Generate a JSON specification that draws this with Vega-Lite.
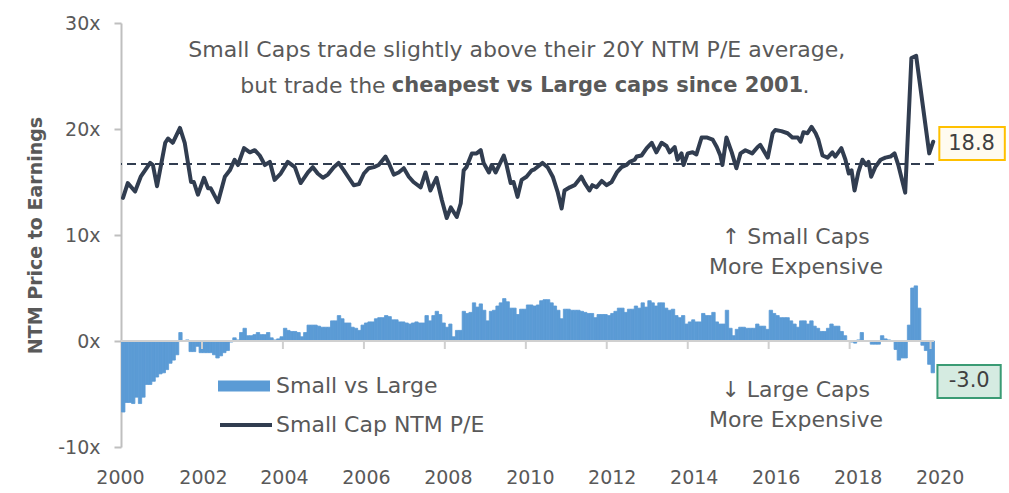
{
"$schema":"https://vega.github.io/schema/vega-lite/v6.json",
"width":813,"height":424,"autosize":"none",
"padding":{"left":121,"top":23,"right":75,"bottom":46},
"background":"white",
"config":{"font":"DejaVu Sans","view":{"stroke":null},"axis":{"grid":false}},
"datasets":{
"one":[{}],
"ticks":[{"d":"2002-01-01"},{"d":"2004-01-01"},{"d":"2006-01-01"},{"d":"2008-01-01"},{"d":"2010-01-01"},{"d":"2012-01-01"},{"d":"2014-01-01"},{"d":"2016-01-01"},{"d":"2018-01-01"},{"d":"2020-01-01"}],
"bars":[
{"d":"2000-01-01","v":-6.7},{"d":"2000-02-01","v":-5.8},{"d":"2000-03-01","v":-5.8},{"d":"2000-04-01","v":-5.9},{"d":"2000-05-01","v":-5.3},{"d":"2000-06-01","v":-5.9},{"d":"2000-07-01","v":-5.3},{"d":"2000-08-01","v":-4.1},{"d":"2000-09-01","v":-4.1},{"d":"2000-10-01","v":-3.8},{"d":"2000-11-01","v":-3.4},{"d":"2000-12-01","v":-3.1},
{"d":"2001-01-01","v":-3.0},{"d":"2001-02-01","v":-2.7},{"d":"2001-03-01","v":-2.1},{"d":"2001-04-01","v":-1.8},{"d":"2001-05-01","v":-1.3},{"d":"2001-06-01","v":0.8},{"d":"2001-07-01","v":0.0},{"d":"2001-08-01","v":0.1},{"d":"2001-09-01","v":-1.0},{"d":"2001-10-01","v":-1.0},{"d":"2001-11-01","v":-0.5},{"d":"2001-12-01","v":-1.1},
{"d":"2002-01-01","v":-1.1},{"d":"2002-02-01","v":-1.1},{"d":"2002-03-01","v":-1.1},{"d":"2002-04-01","v":-1.3},{"d":"2002-05-01","v":-1.6},{"d":"2002-06-01","v":-1.4},{"d":"2002-07-01","v":-1.1},{"d":"2002-08-01","v":-0.9},{"d":"2002-09-01","v":-0.1},{"d":"2002-10-01","v":0.3},{"d":"2002-11-01","v":0.1},{"d":"2002-12-01","v":0.8},
{"d":"2003-01-01","v":1.2},{"d":"2003-02-01","v":0.5},{"d":"2003-03-01","v":0.5},{"d":"2003-04-01","v":0.6},{"d":"2003-05-01","v":0.8},{"d":"2003-06-01","v":0.6},{"d":"2003-07-01","v":0.6},{"d":"2003-08-01","v":0.8},{"d":"2003-09-01","v":0.3},{"d":"2003-10-01","v":0.1},{"d":"2003-11-01","v":0.2},{"d":"2003-12-01","v":0.4},
{"d":"2004-01-01","v":1.2},{"d":"2004-02-01","v":1.0},{"d":"2004-03-01","v":0.9},{"d":"2004-04-01","v":0.9},{"d":"2004-05-01","v":0.8},{"d":"2004-06-01","v":0.4},{"d":"2004-07-01","v":0.8},{"d":"2004-08-01","v":1.5},{"d":"2004-09-01","v":1.5},{"d":"2004-10-01","v":1.5},{"d":"2004-11-01","v":1.4},{"d":"2004-12-01","v":1.3},
{"d":"2005-01-01","v":1.3},{"d":"2005-02-01","v":1.3},{"d":"2005-03-01","v":1.9},{"d":"2005-04-01","v":1.9},{"d":"2005-05-01","v":2.4},{"d":"2005-06-01","v":2.1},{"d":"2005-07-01","v":1.7},{"d":"2005-08-01","v":1.7},{"d":"2005-09-01","v":1.3},{"d":"2005-10-01","v":1.2},{"d":"2005-11-01","v":1.0},{"d":"2005-12-01","v":1.5},
{"d":"2006-01-01","v":1.7},{"d":"2006-02-01","v":1.8},{"d":"2006-03-01","v":1.8},{"d":"2006-04-01","v":2.1},{"d":"2006-05-01","v":2.2},{"d":"2006-06-01","v":2.2},{"d":"2006-07-01","v":2.4},{"d":"2006-08-01","v":2.3},{"d":"2006-09-01","v":2.0},{"d":"2006-10-01","v":2.0},{"d":"2006-11-01","v":1.8},{"d":"2006-12-01","v":1.8},
{"d":"2007-01-01","v":1.7},{"d":"2007-02-01","v":1.6},{"d":"2007-03-01","v":1.7},{"d":"2007-04-01","v":1.8},{"d":"2007-05-01","v":1.7},{"d":"2007-06-01","v":1.7},{"d":"2007-07-01","v":2.4},{"d":"2007-08-01","v":1.9},{"d":"2007-09-01","v":2.4},{"d":"2007-10-01","v":2.8},{"d":"2007-11-01","v":2.5},{"d":"2007-12-01","v":1.7},
{"d":"2008-01-01","v":1.3},{"d":"2008-02-01","v":1.6},{"d":"2008-03-01","v":0.4},{"d":"2008-04-01","v":1.0},{"d":"2008-05-01","v":1.0},{"d":"2008-06-01","v":2.8},{"d":"2008-07-01","v":2.6},{"d":"2008-08-01","v":2.7},{"d":"2008-09-01","v":3.6},{"d":"2008-10-01","v":3.2},{"d":"2008-11-01","v":3.5},{"d":"2008-12-01","v":2.9},
{"d":"2009-01-01","v":1.9},{"d":"2009-02-01","v":2.8},{"d":"2009-03-01","v":2.9},{"d":"2009-04-01","v":3.3},{"d":"2009-05-01","v":3.6},{"d":"2009-06-01","v":4.0},{"d":"2009-07-01","v":3.7},{"d":"2009-08-01","v":3.1},{"d":"2009-09-01","v":3.1},{"d":"2009-10-01","v":2.5},{"d":"2009-11-01","v":3.0},{"d":"2009-12-01","v":3.0},
{"d":"2010-01-01","v":3.4},{"d":"2010-02-01","v":3.4},{"d":"2010-03-01","v":3.3},{"d":"2010-04-01","v":3.4},{"d":"2010-05-01","v":3.8},{"d":"2010-06-01","v":3.9},{"d":"2010-07-01","v":3.9},{"d":"2010-08-01","v":3.6},{"d":"2010-09-01","v":3.3},{"d":"2010-10-01","v":2.9},{"d":"2010-11-01","v":2.1},{"d":"2010-12-01","v":3.0},
{"d":"2011-01-01","v":3.0},{"d":"2011-02-01","v":2.9},{"d":"2011-03-01","v":2.9},{"d":"2011-04-01","v":2.9},{"d":"2011-05-01","v":2.8},{"d":"2011-06-01","v":2.7},{"d":"2011-07-01","v":2.6},{"d":"2011-08-01","v":2.6},{"d":"2011-09-01","v":2.2},{"d":"2011-10-01","v":2.5},{"d":"2011-11-01","v":2.5},{"d":"2011-12-01","v":2.5},
{"d":"2012-01-01","v":2.4},{"d":"2012-02-01","v":2.6},{"d":"2012-03-01","v":2.8},{"d":"2012-04-01","v":3.1},{"d":"2012-05-01","v":3.1},{"d":"2012-06-01","v":2.7},{"d":"2012-07-01","v":3.0},{"d":"2012-08-01","v":3.0},{"d":"2012-09-01","v":3.3},{"d":"2012-10-01","v":3.1},{"d":"2012-11-01","v":3.6},{"d":"2012-12-01","v":3.2},
{"d":"2013-01-01","v":3.8},{"d":"2013-02-01","v":3.6},{"d":"2013-03-01","v":3.3},{"d":"2013-04-01","v":3.6},{"d":"2013-05-01","v":3.6},{"d":"2013-06-01","v":3.1},{"d":"2013-07-01","v":2.9},{"d":"2013-08-01","v":3.0},{"d":"2013-09-01","v":2.4},{"d":"2013-10-01","v":2.2},{"d":"2013-11-01","v":2.4},{"d":"2013-12-01","v":1.6},
{"d":"2014-01-01","v":1.8},{"d":"2014-02-01","v":2.0},{"d":"2014-03-01","v":1.8},{"d":"2014-04-01","v":1.8},{"d":"2014-05-01","v":2.6},{"d":"2014-06-01","v":2.4},{"d":"2014-07-01","v":2.4},{"d":"2014-08-01","v":2.7},{"d":"2014-09-01","v":1.8},{"d":"2014-10-01","v":1.6},{"d":"2014-11-01","v":1.6},{"d":"2014-12-01","v":2.9},
{"d":"2015-01-01","v":1.2},{"d":"2015-02-01","v":0.5},{"d":"2015-03-01","v":1.1},{"d":"2015-04-01","v":1.3},{"d":"2015-05-01","v":1.3},{"d":"2015-06-01","v":1.2},{"d":"2015-07-01","v":1.2},{"d":"2015-08-01","v":1.2},{"d":"2015-09-01","v":1.6},{"d":"2015-10-01","v":1.4},{"d":"2015-11-01","v":1.4},{"d":"2015-12-01","v":1.1},
{"d":"2016-01-01","v":2.9},{"d":"2016-02-01","v":2.6},{"d":"2016-03-01","v":2.4},{"d":"2016-04-01","v":2.2},{"d":"2016-05-01","v":2.2},{"d":"2016-06-01","v":2.2},{"d":"2016-07-01","v":1.9},{"d":"2016-08-01","v":1.6},{"d":"2016-09-01","v":1.3},{"d":"2016-10-01","v":1.9},{"d":"2016-11-01","v":1.9},{"d":"2016-12-01","v":1.6},
{"d":"2017-01-01","v":1.9},{"d":"2017-02-01","v":1.4},{"d":"2017-03-01","v":1.2},{"d":"2017-04-01","v":0.9},{"d":"2017-05-01","v":0.9},{"d":"2017-06-01","v":1.2},{"d":"2017-07-01","v":1.6},{"d":"2017-08-01","v":1.4},{"d":"2017-09-01","v":1.4},{"d":"2017-10-01","v":0.9},{"d":"2017-11-01","v":0.5},{"d":"2017-12-01","v":0.0},
{"d":"2018-01-01","v":-0.1},{"d":"2018-02-01","v":-0.2},{"d":"2018-03-01","v":0.1},{"d":"2018-04-01","v":0.8},{"d":"2018-05-01","v":0.0},{"d":"2018-06-01","v":0.0},{"d":"2018-07-01","v":-0.3},{"d":"2018-08-01","v":-0.3},{"d":"2018-09-01","v":-0.3},{"d":"2018-10-01","v":0.5},{"d":"2018-11-01","v":0.2},{"d":"2018-12-01","v":0.1},
{"d":"2019-01-01","v":0.0},{"d":"2019-02-01","v":-0.8},{"d":"2019-03-01","v":-1.8},{"d":"2019-04-01","v":-1.6},{"d":"2019-05-01","v":-1.6},{"d":"2019-06-01","v":1.5},{"d":"2019-07-01","v":5.0},{"d":"2019-08-01","v":5.2},{"d":"2019-09-01","v":3.1},{"d":"2019-10-01","v":-0.4},{"d":"2019-11-01","v":-0.9},{"d":"2019-12-01","v":-2.2},
{"d":"2020-01-01","v":-3.0}
],
"pe":[
{"d":"2000-01-19","v":13.5},{"d":"2000-03-02","v":14.9},{"d":"2000-05-07","v":14.1},{"d":"2000-06-27","v":15.5},{"d":"2000-09-20","v":16.8},{"d":"2000-10-15","v":16.6},{"d":"2000-11-21","v":14.6},
{"d":"2001-02-03","v":18.7},{"d":"2001-02-28","v":19.1},{"d":"2001-04-12","v":18.7},{"d":"2001-06-16","v":20.1},{"d":"2001-07-29","v":18.7},{"d":"2001-09-24","v":15.0},{"d":"2001-10-19","v":15.0},{"d":"2001-11-25","v":13.8},
{"d":"2002-01-19","v":15.4},{"d":"2002-02-25","v":14.4},{"d":"2002-03-21","v":14.4},{"d":"2002-05-25","v":13.1},{"d":"2002-07-26","v":15.5},{"d":"2002-09-09","v":16.1},{"d":"2002-10-22","v":17.1},{"d":"2002-11-21","v":16.6},
{"d":"2003-01-15","v":18.2},{"d":"2003-03-09","v":17.8},{"d":"2003-04-22","v":18.0},{"d":"2003-06-06","v":17.5},{"d":"2003-07-22","v":16.6},{"d":"2003-09-05","v":16.9},{"d":"2003-10-18","v":15.2},{"d":"2003-12-12","v":15.8},
{"d":"2004-02-14","v":16.9},{"d":"2004-04-18","v":16.4},{"d":"2004-06-09","v":14.9},{"d":"2004-08-14","v":15.9},{"d":"2004-09-27","v":16.4},{"d":"2004-11-10","v":15.8},{"d":"2004-12-27","v":15.4},
{"d":"2005-02-10","v":15.7},{"d":"2005-04-04","v":16.4},{"d":"2005-05-17","v":16.8},{"d":"2005-07-04","v":16.1},{"d":"2005-08-17","v":15.4},{"d":"2005-10-01","v":14.7},{"d":"2005-11-17","v":14.8},
{"d":"2006-01-01","v":15.8},{"d":"2006-02-14","v":16.3},{"d":"2006-04-01","v":16.4},{"d":"2006-05-14","v":16.6},{"d":"2006-07-15","v":17.4},{"d":"2006-08-13","v":16.8},{"d":"2006-09-27","v":15.7},{"d":"2006-11-10","v":15.9},{"d":"2006-12-27","v":16.3},
{"d":"2007-02-10","v":15.5},{"d":"2007-03-24","v":15.0},{"d":"2007-05-28","v":14.5},{"d":"2007-07-11","v":15.9},{"d":"2007-08-24","v":14.2},{"d":"2007-10-18","v":15.4},{"d":"2007-12-05","v":13.3},
{"d":"2008-01-18","v":11.6},{"d":"2008-02-24","v":12.6},{"d":"2008-04-18","v":11.7},{"d":"2008-05-24","v":13.0},{"d":"2008-06-19","v":16.1},{"d":"2008-07-14","v":16.4},{"d":"2008-09-01","v":17.7},{"d":"2008-10-14","v":17.7},{"d":"2008-11-20","v":18.0},{"d":"2008-12-16","v":16.8},
{"d":"2009-02-02","v":15.9},{"d":"2009-02-27","v":16.6},{"d":"2009-04-04","v":15.9},{"d":"2009-06-16","v":17.5},{"d":"2009-07-11","v":16.6},{"d":"2009-08-17","v":14.9},{"d":"2009-09-12","v":15.0},{"d":"2009-10-18","v":13.6},{"d":"2009-11-24","v":15.2},
{"d":"2010-01-07","v":15.5},{"d":"2010-02-24","v":16.1},{"d":"2010-03-20","v":16.2},{"d":"2010-06-01","v":16.8},{"d":"2010-07-16","v":16.4},{"d":"2010-09-01","v":15.5},{"d":"2010-10-14","v":14.1},{"d":"2010-11-20","v":12.5},{"d":"2010-12-16","v":14.2},
{"d":"2011-02-02","v":14.5},{"d":"2011-03-17","v":14.7},{"d":"2011-05-17","v":15.5},{"d":"2011-06-16","v":14.9},{"d":"2011-07-29","v":14.2},{"d":"2011-08-24","v":14.7},{"d":"2011-10-01","v":14.5},{"d":"2011-11-17","v":15.1},
{"d":"2012-01-01","v":14.7},{"d":"2012-02-14","v":15.0},{"d":"2012-04-01","v":15.9},{"d":"2012-05-14","v":16.4},{"d":"2012-06-27","v":16.6},{"d":"2012-07-26","v":16.9},{"d":"2012-09-09","v":17.1},{"d":"2012-09-27","v":17.4},{"d":"2012-11-10","v":17.5},{"d":"2012-12-27","v":18.2},
{"d":"2013-02-10","v":18.7},{"d":"2013-03-24","v":17.8},{"d":"2013-05-10","v":18.7},{"d":"2013-06-23","v":18.4},{"d":"2013-07-22","v":17.8},{"d":"2013-09-05","v":18.3},{"d":"2013-10-01","v":17.1},{"d":"2013-11-06","v":17.7},{"d":"2013-11-24","v":16.6},
{"d":"2014-01-01","v":17.7},{"d":"2014-02-14","v":17.8},{"d":"2014-03-20","v":17.6},{"d":"2014-05-06","v":19.2},{"d":"2014-06-20","v":19.2},{"d":"2014-08-14","v":19.0},{"d":"2014-09-20","v":18.3},{"d":"2014-10-22","v":17.5},{"d":"2014-11-10","v":16.6},{"d":"2014-12-16","v":19.2},
{"d":"2015-02-02","v":17.8},{"d":"2015-03-16","v":16.3},{"d":"2015-04-22","v":17.7},{"d":"2015-06-05","v":18.0},{"d":"2015-08-06","v":17.7},{"d":"2015-09-24","v":18.3},{"d":"2015-10-18","v":18.5},{"d":"2015-12-24","v":17.3},
{"d":"2016-02-06","v":19.6},{"d":"2016-03-01","v":19.9},{"d":"2016-04-25","v":19.8},{"d":"2016-06-20","v":19.6},{"d":"2016-08-02","v":19.2},{"d":"2016-09-20","v":19.2},{"d":"2016-10-15","v":18.8},{"d":"2016-11-10","v":19.7},{"d":"2016-12-16","v":19.6},
{"d":"2017-01-22","v":20.2},{"d":"2017-02-28","v":19.6},{"d":"2017-03-24","v":19.0},{"d":"2017-05-01","v":17.5},{"d":"2017-06-16","v":17.3},{"d":"2017-07-29","v":17.8},{"d":"2017-08-24","v":17.4},{"d":"2017-10-18","v":18.2},{"d":"2017-11-24","v":17.1},{"d":"2017-12-24","v":15.8},
{"d":"2018-01-18","v":16.1},{"d":"2018-02-14","v":14.2},{"d":"2018-03-20","v":15.9},{"d":"2018-04-26","v":17.1},{"d":"2018-05-30","v":16.6},{"d":"2018-06-20","v":16.9},{"d":"2018-07-14","v":15.5},{"d":"2018-08-20","v":16.4},{"d":"2018-10-07","v":17.1},{"d":"2018-11-20","v":17.3},
{"d":"2019-01-04","v":17.4},{"d":"2019-02-10","v":17.7},{"d":"2019-03-16","v":16.6},{"d":"2019-05-17","v":14.0},{"d":"2019-07-12","v":26.7},{"d":"2019-08-24","v":26.9},{"d":"2019-12-20","v":17.7},{"d":"2020-01-25","v":18.8}
]
},
"layer":[
{"data":{"name":"bars"},"mark":{"type":"bar","binSpacing":0,"stroke":"#5B9BD5","strokeWidth":0.8},
 "encoding":{
  "x":{"field":"d","timeUnit":"utcyearmonth","type":"temporal",
   "scale":{"type":"utc","domain":[{"year":2000,"month":1,"date":1,"utc":true},{"year":2020,"month":2,"date":1,"utc":true}]},
   "axis":{"orient":"bottom","offset":-106,"zindex":2,"domain":false,"ticks":false,"title":null,"format":"%Y","tickCount":{"interval":"year","step":2},"labelFontSize":19,"labelColor":"#595959","labelPadding":127,"labelFlush":false,"labelOverlap":false,
    "labelOffset":{"condition":[{"test":"utcyear(datum.value) >= 2020","value":9},{"test":"utcyear(datum.value) >= 2018","value":8},{"test":"utcyear(datum.value) >= 2016","value":7},{"test":"utcyear(datum.value) >= 2014","value":6},{"test":"utcyear(datum.value) >= 2012","value":5},{"test":"utcyear(datum.value) >= 2010","value":4},{"test":"utcyear(datum.value) >= 2008","value":3},{"test":"utcyear(datum.value) >= 2006","value":2},{"test":"utcyear(datum.value) >= 2002","value":1}],"value":-1}}},
  "y":{"field":"v","type":"quantitative","scale":{"domain":[-10,30],"nice":false,"zero":false},
   "axis":{"values":[-10,0,10,20,30],"labelExpr":"datum.value + 'x'","title":"NTM Price to Earnings","titleFontSize":19,"titleFontWeight":"bold","titleColor":"#595959","titlePadding":12,"labelFontSize":19,"labelColor":"#595959","labelPadding":14,"tickSize":7,"tickColor":"#BFBFBF","tickWidth":2,"domainColor":"#BFBFBF","domainWidth":2}},
  "fill":{"datum":"Small vs Large","type":"nominal","scale":{"range":["#5B9BD5"]},
   "legend":{"orient":"none","legendX":97,"legendY":337,"title":null,"symbolType":"M-1,-0.21L1,-0.21L1,0.21L-1,0.21Z","symbolSize":2704,"symbolStrokeWidth":0,"labelFontSize":22,"labelColor":"#595959","labelOffset":6,"labelLimit":400}}
 }},
{"data":{"name":"one"},"mark":{"type":"rule","strokeWidth":2,"color":"#D0D0D0"},
 "encoding":{"y":{"datum":0,"type":"quantitative"}}},
{"data":{"name":"ticks"},"mark":{"type":"tick","orient":"vertical","size":8,"thickness":2,"color":"#D0D0D0","yOffset":4,"opacity":1},
 "encoding":{"x":{"field":"d","type":"temporal"},"y":{"datum":0,"type":"quantitative"}}},
{"data":{"name":"one"},"mark":{"type":"rule","strokeDash":[9,5],"strokeWidth":2,"color":"#313D50"},
 "encoding":{"y":{"datum":16.7,"type":"quantitative"}}},
{"data":{"name":"pe"},"mark":{"type":"line","strokeWidth":4,"strokeJoin":"round","strokeCap":"round"},
 "encoding":{
  "x":{"field":"d","type":"temporal"},
  "y":{"field":"v","type":"quantitative"},
  "stroke":{"datum":"Small Cap NTM P/E","type":"nominal","scale":{"range":["#313D50"]},
   "legend":{"orient":"none","legendX":97,"legendY":374,"title":null,"symbolType":"stroke","symbolSize":2704,"symbolStrokeWidth":4,"labelFontSize":22,"labelColor":"#595959","labelOffset":2,"labelLimit":400}}
 }},
{"data":{"name":"one"},"mark":{"type":"text","text":"Small Caps trade slightly above their 20Y NTM P/E average,","fontSize":22,"color":"#595959","align":"center","baseline":"middle"},
 "encoding":{"x":{"datum":{"year":2009,"month":10,"date":11,"utc":true},"type":"temporal"},"y":{"datum":27.45,"type":"quantitative"}}},
{"data":{"name":"one"},"mark":{"type":"text","text":"but trade the","fontSize":22,"color":"#595959","align":"right","baseline":"middle"},
 "encoding":{"x":{"datum":{"year":2006,"month":7,"date":16,"utc":true},"type":"temporal"},"y":{"datum":24.06,"type":"quantitative"}}},
{"data":{"name":"one"},"mark":{"type":"text","text":"cheapest vs Large caps since 2001","fontSize":21,"fontWeight":"bold","color":"#595959","align":"left","baseline":"middle"},
 "encoding":{"x":{"datum":{"year":2006,"month":9,"date":9,"utc":true},"type":"temporal"},"y":{"datum":24.06,"type":"quantitative"}}},
{"data":{"name":"one"},"mark":{"type":"text","text":".","fontSize":22,"color":"#595959","align":"left","baseline":"middle"},
 "encoding":{"x":{"datum":{"year":2016,"month":11,"date":1,"utc":true},"type":"temporal"},"y":{"datum":24.06,"type":"quantitative"}}},
{"data":{"name":"one"},"mark":{"type":"text","text":"↑ Small Caps","fontSize":22,"color":"#595959","align":"center","baseline":"middle"},
 "encoding":{"x":{"datum":{"year":2016,"month":9,"date":1,"utc":true},"type":"temporal"},"y":{"datum":9.8,"type":"quantitative"}}},
{"data":{"name":"one"},"mark":{"type":"text","text":"More Expensive","fontSize":22,"color":"#595959","align":"center","baseline":"middle"},
 "encoding":{"x":{"datum":{"year":2016,"month":9,"date":5,"utc":true},"type":"temporal"},"y":{"datum":6.98,"type":"quantitative"}}},
{"data":{"name":"one"},"mark":{"type":"text","text":"↓ Large Caps","fontSize":22,"color":"#595959","align":"center","baseline":"middle"},
 "encoding":{"x":{"datum":{"year":2016,"month":9,"date":1,"utc":true},"type":"temporal"},"y":{"datum":-4.62,"type":"quantitative"}}},
{"data":{"name":"one"},"mark":{"type":"text","text":"More Expensive","fontSize":22,"color":"#595959","align":"center","baseline":"middle"},
 "encoding":{"x":{"datum":{"year":2016,"month":9,"date":5,"utc":true},"type":"temporal"},"y":{"datum":-7.45,"type":"quantitative"}}},
{"data":{"name":"one"},"mark":{"type":"rect","fill":"#FFFBF0","stroke":"#FFC000","strokeWidth":2},
 "encoding":{"x":{"datum":{"year":2020,"month":3,"date":20,"utc":true},"type":"temporal"},"x2":{"datum":{"year":2021,"month":11,"date":1,"utc":true}},
  "y":{"datum":20.19,"type":"quantitative"},"y2":{"datum":17.08}}},
{"data":{"name":"one"},"mark":{"type":"text","text":"18.8","fontSize":21,"color":"#404040","align":"center","baseline":"middle"},
 "encoding":{"x":{"datum":{"year":2021,"month":1,"date":5,"utc":true},"type":"temporal"},"y":{"datum":18.63,"type":"quantitative"}}},
{"data":{"name":"one"},"mark":{"type":"rect","fill":"#D5EBE1","stroke":"#3A9B74","strokeWidth":2},
 "encoding":{"x":{"datum":{"year":2020,"month":3,"date":3,"utc":true},"type":"temporal"},"x2":{"datum":{"year":2021,"month":9,"date":25,"utc":true}},
  "y":{"datum":-2.26,"type":"quantitative"},"y2":{"datum":-5.38}}},
{"data":{"name":"one"},"mark":{"type":"text","text":"-3.0","fontSize":21,"color":"#404040","align":"center","baseline":"middle"},
 "encoding":{"x":{"datum":{"year":2020,"month":12,"date":15,"utc":true},"type":"temporal"},"y":{"datum":-3.82,"type":"quantitative"}}}
]
}
